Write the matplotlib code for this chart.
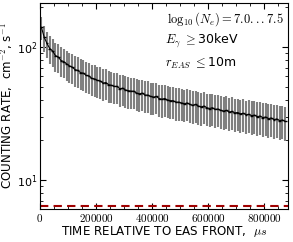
import numpy as np
import matplotlib
matplotlib.use("Agg")
import matplotlib.pyplot as plt
from matplotlib.ticker import FuncFormatter, MultipleLocator

plt.rcParams['mathtext.fontset'] = 'cm'
plt.rcParams['font.family'] = 'DejaVu Sans'

# bin centres (time after EAS front, microseconds) and bin half width
bin_start = 0
bin_width = 10000
n_bins = 88

rate = [140, 118, 106, 97, 93, 86, 84, 79, 77.5, 74.5,
        72, 70.5, 67.5, 66.5, 64, 63.5, 61, 60.5, 58, 57.5,
        56, 55.5, 53.5, 54, 52, 51.5, 50.5, 50.5, 48.5, 49,
        47.5, 47, 46.5, 46.5, 45, 44.5, 45, 43.5, 43.5, 42.5,
        42, 42.5, 41, 40.5, 41, 40, 39.5, 39.5, 38.5, 38.5,
        38, 37.5, 38, 37, 36.5, 37, 36, 35.5, 36, 35,
        34.5, 35, 34, 34.2, 33.5, 33, 33.4, 32.5, 32.8, 32,
        32.2, 31.5, 31.8, 31, 31.2, 30.5, 30.8, 30, 30.3, 29.5,
        29.8, 29, 29.3, 28.5, 28.8, 28, 28.3, 27.6]

rate_err = [28, 26, 24, 23, 22, 21, 20.5, 20, 19.5, 19,
            18.5, 18, 17.5, 17.2, 16.8, 16.5, 16, 15.8, 15.4, 15.1,
            14.8, 14.6, 14.3, 14.1, 13.8, 13.6, 13.4, 13.3, 13, 12.9,
            12.7, 12.6, 12.4, 12.3, 12.1, 12, 11.9, 11.8, 11.6, 11.5,
            11.4, 11.3, 11.2, 11.1, 11, 10.9, 10.8, 10.7, 10.6, 10.5,
            10.4, 10.3, 10.2, 10.1, 10, 9.9, 9.9, 9.8, 9.7, 9.6,
            9.5, 9.5, 9.4, 9.3, 9.2, 9.2, 9.1, 9, 9, 8.9,
            8.8, 8.8, 8.7, 8.6, 8.6, 8.5, 8.4, 8.4, 8.3, 8.3,
            8.2, 8.1, 8.1, 8, 8, 7.9, 7.9, 7.8]

background = 6.45

t = bin_start + bin_width / 2 + bin_width * np.arange(n_bins)

fig = plt.figure(figsize=(2.93, 2.42), dpi=100)
ax = fig.add_axes([0.1365, 0.1364, 0.8465, 0.8512])

ax.errorbar(t, rate, yerr=rate_err, fmt='none', ecolor='grey', elinewidth=1.5)
ax.errorbar(t, rate, xerr=bin_width / 2, fmt='none', ecolor='k', elinewidth=1.0)
ax.plot(t, rate, color='k', lw=0.8)
ax.axhline(background, color='#a00000', ls='--', lw=1.5, dashes=(4, 2.5))

ax.set_yscale('log')
ax.set_xlim(0, 885000)
ax.set_ylim(6.1, 213)

ax.xaxis.set_major_locator(MultipleLocator(200000))
ax.xaxis.set_minor_locator(MultipleLocator(50000))
ax.xaxis.set_major_formatter(FuncFormatter(lambda v, p: r'$%d$' % v))
ax.tick_params(which='both', direction='in', top=True, right=True, labelsize=8)
ax.tick_params(which='major', length=4, pad=2)
ax.tick_params(which='minor', length=2)

ax.set_xlabel(r'TIME RELATIVE TO EAS FRONT,  $\mu s$', fontsize=8.6, labelpad=0)
ax.set_ylabel(r'COUNTING RATE,  cm$^{-2}$, s$^{-1}$', fontsize=8.6, labelpad=1)

ax.text(0.985, 0.965, r'$\log_{10}(N_e)=7.0...7.5$', transform=ax.transAxes,
        ha='right', va='top', fontsize=9)
ax.text(0.505, 0.865, r'$E_\gamma$ $\geq$30keV', transform=ax.transAxes,
        ha='left', va='top', fontsize=9)
ax.text(0.505, 0.745, r'$r_{EAS}$ $\leq$10m', transform=ax.transAxes,
        ha='left', va='top', fontsize=9)

for s in ax.spines.values():
    s.set_linewidth(0.8)

fig.savefig('out.png', dpi=100)
